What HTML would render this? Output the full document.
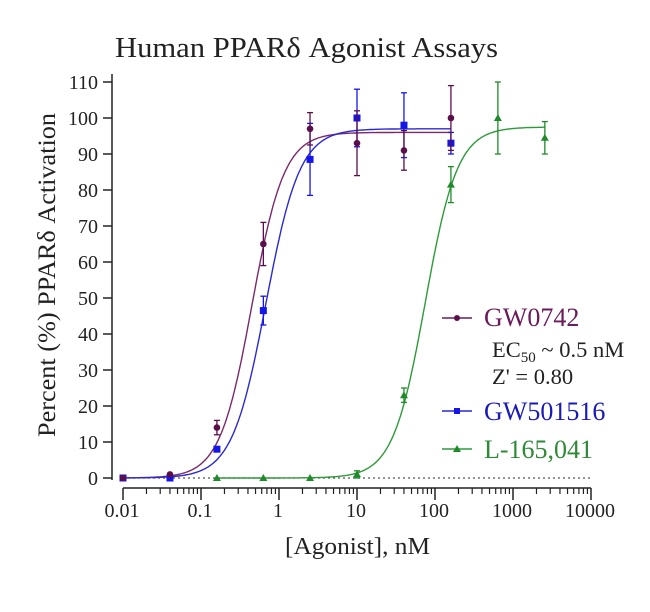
<!DOCTYPE html><html><head><meta charset="utf-8"><style>body{margin:0;background:#fff}svg{display:block}text{font-family:"Liberation Serif",serif;fill:#222}</style></head><body>
<svg id="s" width="650" height="612" xmlns="http://www.w3.org/2000/svg">
<text x="115" y="57" font-size="28" textLength="383" lengthAdjust="spacingAndGlyphs">Human PPARδ Agonist Assays</text>
<text transform="translate(55,275) rotate(-90)" font-size="25" text-anchor="middle" textLength="324" lengthAdjust="spacingAndGlyphs">Percent (%) PPARδ Activation</text>
<text x="285" y="554" font-size="24" textLength="145" lengthAdjust="spacingAndGlyphs">[Agonist], nM</text>
<line x1="112" y1="74" x2="112" y2="480" stroke="#222" stroke-width="1.5"/>
<line x1="123" y1="488" x2="591" y2="488" stroke="#222" stroke-width="1.5"/>
<line x1="123" y1="478" x2="592" y2="478" stroke="#555" stroke-width="1.3" stroke-dasharray="2,3"/>
<g id="ax"></g><g id="dat"></g>
<g font-size="26">
<line x1="442" y1="318" x2="472" y2="318" stroke="#6a1b5a" stroke-width="1.5"/><circle cx="457" cy="318" r="3" fill="#5a0f4a"/>
<text x="484" y="326" style="fill:#6a1b5a">GW0742</text>
<text x="492" y="357" font-size="22.5">EC<tspan font-size="15" dy="5">50</tspan><tspan dy="-5"> ~ 0.5 nM</tspan></text>
<text x="492" y="384" font-size="22.5">Z' = 0.80</text>
<line x1="442" y1="411" x2="472" y2="411" stroke="#2a2ad0" stroke-width="1.5"/><rect x="454" y="408" width="6" height="6" fill="#1515e8"/>
<text x="484" y="420" style="fill:#1a1ab8">GW501516</text>
<line x1="442" y1="449" x2="472" y2="449" stroke="#2e9a3a" stroke-width="1.5"/><path d="M457 445 L461 452 L453 452Z" fill="#1f8a2a"/>
<text x="484" y="458" style="fill:#2e8a36">L-165,041</text>
</g>
</svg>
<script>
var NS="http://www.w3.org/2000/svg",ax=document.getElementById("ax"),dg=document.getElementById("dat");
function X(v){return 123+(Math.log10(v)+2)*78}function Y(v){return 478-v*3.6}
function el(p,t,a,tx){var e=document.createElementNS(NS,t);for(var k in a)e.setAttribute(k,a[k]);if(tx!=null)e.textContent=tx;p.appendChild(e);return e}
for(var i=0;i<=11;i++){var y=Y(i*10);el(ax,"line",{x1:103,y1:y,x2:112,y2:y,stroke:"#222","stroke-width":1.5});el(ax,"text",{x:98,y:y+7,"font-size":20,"text-anchor":"end"},i*10)}
var labs=["0.01","0.1","1","10","100","1000","10000"];
for(var d=-2;d<=4;d++){var x=X(Math.pow(10,d));el(ax,"line",{x1:x,y1:488,x2:x,y2:500,stroke:"#222","stroke-width":1.5});el(ax,"text",{x:x-1,y:517,"font-size":20,"text-anchor":"middle"},labs[d+2]);
if(d<4)for(var m=2;m<10;m++){var xx=X(m*Math.pow(10,d));el(ax,"line",{x1:xx,y1:488,x2:xx,y2:494,stroke:"#222","stroke-width":1.2})}}
function hill(c,top,hs){return function(x){return top/(1+Math.pow(c/x,hs))}}
function curve(f,x0,x1,col){var p="";for(var i=0;i<=200;i++){var lx=Math.log10(x0)+(Math.log10(x1)-Math.log10(x0))*i/200,v=Math.pow(10,lx);p+=(i?"L":"M")+X(v).toFixed(1)+" "+Y(f(v)).toFixed(1)}el(dg,"path",{d:p,fill:"none",stroke:col,"stroke-width":1.4})}
curve(hill(0.45,96,2.1),0.01,160,"#7a2a6a");curve(hill(0.68,97,2),0.01,160,"#2a2ad0");curve(hill(75,97.5,2.1),0.16,2560,"#2e9a3a");
var xs=[0.01,0.04,0.16,0.63,2.5,10,40,160,640,2560];
function pts(vals,errs,col,shape,start){vals.forEach(function(v,i){var x=X(xs[i+start]),y=Y(v),e=errs[i];if(e){el(dg,"line",{x1:x,y1:Y(v+e),x2:x,y2:Y(v-e),stroke:col,"stroke-width":1.3});el(dg,"line",{x1:x-3,y1:Y(v+e),x2:x+3,y2:Y(v+e),stroke:col,"stroke-width":1.3});el(dg,"line",{x1:x-3,y1:Y(v-e),x2:x+3,y2:Y(v-e),stroke:col,"stroke-width":1.3})}
if(shape=="c")el(dg,"circle",{cx:x,cy:y,r:3.3,fill:col});else if(shape=="s")el(dg,"rect",{x:x-3.5,y:y-3.5,width:7,height:7,fill:col});else el(dg,"path",{d:"M"+x+" "+(y-4)+"L"+(x+4)+" "+(y+3)+"L"+(x-4)+" "+(y+3)+"Z",fill:col})})}
pts([0,0,8,46.5,88.5,100,98,93],[0,0,0,4,10,8,9,3],"#1515e8","s",0);
pts([0,1,14,65,97,93,91,100],[0,0,2,6,4.5,9,5.5,9],"#5a0f4a","c",0);
pts([0,0,0,1,23,81.5,100,94.5],[0,0,0,1,2,5,10,4.5],"#1f8a2a","t",2);
</script></body></html>
